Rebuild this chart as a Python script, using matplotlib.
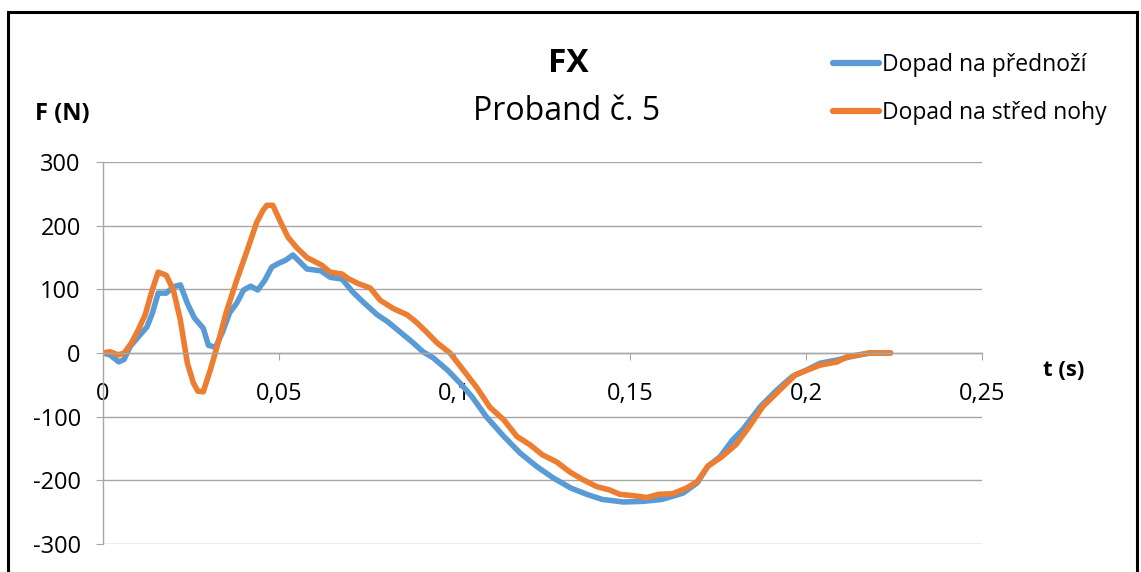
import numpy as np
import matplotlib
matplotlib.use("Agg")
import matplotlib.pyplot as plt
from matplotlib.patches import Rectangle

plt.rcParams['font.family'] = ['Open Sans', 'DejaVu Sans']
plt.rcParams['axes.unicode_minus'] = False

# Dopad na přednoží
t_front = [0, 0.002, 0.0045, 0.006, 0.0077, 0.010, 0.0125, 0.014, 0.0157, 0.018,
           0.020, 0.022, 0.024, 0.026, 0.0285, 0.030, 0.032, 0.034, 0.036, 0.038,
           0.040, 0.042, 0.044, 0.046, 0.048, 0.050, 0.052, 0.054, 0.056, 0.058,
           0.062, 0.0646, 0.068, 0.071, 0.074, 0.078, 0.081, 0.0845, 0.088, 0.091,
           0.094, 0.098, 0.1015, 0.105, 0.109, 0.114, 0.1186, 0.1233, 0.128, 0.133,
           0.1376, 0.142, 0.148, 0.1536, 0.159, 0.165, 0.169, 0.172, 0.1755, 0.179,
           0.182, 0.187, 0.1917, 0.196, 0.200, 0.204, 0.2088, 0.2125, 0.218, 0.224]
f_front = [0, -3, -14, -10, 10, 25, 41, 62, 94, 94,
           104, 107, 78, 55, 39, 12, 9, 33, 63, 78,
           99, 105, 99, 114, 135, 141, 146, 154, 143, 132,
           129, 119, 116, 96, 80, 60, 49, 33, 17, 2,
           -8, -27, -47, -69, -100, -131, -157, -178, -196, -212,
           -222, -230, -234, -233, -230, -220, -204, -178, -163, -137,
           -120, -84, -58, -37, -27, -16, -11, -6, 0, 0]

# Dopad na střed nohy
t_mid = [0, 0.002, 0.0043, 0.006, 0.008, 0.010, 0.012, 0.014, 0.0157, 0.018,
         0.020, 0.022, 0.024, 0.0257, 0.027, 0.0285, 0.0305, 0.0327, 0.035, 0.038,
         0.041, 0.0437, 0.0455, 0.0466, 0.0483, 0.0503, 0.0526, 0.055, 0.058, 0.0622,
         0.0646, 0.068, 0.0697, 0.0726, 0.076, 0.0788, 0.0825, 0.0865, 0.089, 0.092,
         0.095, 0.0987, 0.1025, 0.1064, 0.110, 0.114, 0.1177, 0.1214, 0.125, 0.129,
         0.1328, 0.1365, 0.1405, 0.144, 0.147, 0.1507, 0.1547, 0.158, 0.162, 0.166,
         0.169, 0.172, 0.176, 0.180, 0.1835, 0.1877, 0.1925, 0.197, 0.204, 0.2088,
         0.2116, 0.218, 0.224]
f_mid = [0, 2, -3, 0, 15, 36, 60, 99, 127, 122,
         99, 52, -16, -47, -60, -61, -27, 15, 63, 114,
         161, 205, 224, 232, 232, 208, 182, 166, 150, 138,
         127, 124, 117, 109, 102, 83, 70, 60, 49, 33,
         16, 0, -27, -55, -85, -105, -131, -144, -160, -171,
         -187, -199, -210, -215, -222, -224, -227, -222, -221, -212,
         -202, -178, -163, -144, -118, -84, -58, -34, -19, -14,
         -6, 0, 0]

x_ticks = [0, 0.05, 0.1, 0.15, 0.2, 0.25]
x_labels = ['0', '0,05', '0,1', '0,15', '0,2', '0,25']
y_ticks = [-300, -200, -100, 0, 100, 200, 300]

BLUE = '#5B9BD5'
ORANGE = '#ED7D31'
GRID = '#A6A6A6'

W, H = 1141, 572
fig = plt.figure(figsize=(W / 100, H / 100), dpi=100)
ax = fig.add_axes([103 / W, (H - 544) / H, 879 / W, 382 / H])

ax.plot(t_front, f_front, color=BLUE, lw=4.0, solid_joinstyle='round',
        solid_capstyle='round', label='Dopad na přednoží')
ax.plot(t_mid, f_mid, color=ORANGE, lw=4.0, solid_joinstyle='round',
        solid_capstyle='round', label='Dopad na střed nohy')

ax.set_xlim(0, 0.25)
ax.set_ylim(-300, 300)
ax.set_xticks(x_ticks)
ax.set_xticklabels(x_labels)
ax.set_yticks(y_ticks)
ax.yaxis.grid(True, color=GRID, lw=1.0)
ax.set_axisbelow(True)

for s in ('top', 'right'):
    ax.spines[s].set_visible(False)
ax.spines['bottom'].set_position(('data', 0))
ax.spines['bottom'].set_color(GRID)
ax.spines['left'].set_color(GRID)
ax.spines['bottom'].set_linewidth(1.0)
ax.spines['left'].set_linewidth(1.0)
ax.tick_params(axis='x', direction='out', length=5, color=GRID, pad=16, labelsize=17)
ax.tick_params(axis='y', direction='out', length=5, color=GRID, pad=11, labelsize=17)

# titles and axis captions
fig.text(568 / W, 1 - 63 / H, 'FX', ha='center', va='center',
         fontsize=24, fontweight='bold')
fig.text(567 / W, 1 - 111 / H, 'Proband č. 5', ha='center', va='center', fontsize=23)
fig.text(35 / W, 1 - 114 / H, 'F (N)', ha='left', va='center',
         fontsize=17, fontweight='bold')
fig.text(1043 / W, 1 - 370 / H, 't (s)', ha='left', va='center',
         fontsize=16, fontweight='bold')

leg = fig.legend(loc='upper left', bbox_to_anchor=(824 / W, 1 - 44 / H),
                 frameon=False, fontsize=16.5, handlelength=2.0, handletextpad=0.15,
                 labelspacing=1.05, borderaxespad=0)
for line in leg.get_lines():
    line.set_linewidth(4.5)

# outer frame
fig.add_artist(Rectangle((8 / W, -0.05), 1129 / W, 1.05 - 12 / H, transform=fig.transFigure,
                         fill=False, edgecolor='black', lw=2.2))

fig.savefig('out.png', dpi=100)
